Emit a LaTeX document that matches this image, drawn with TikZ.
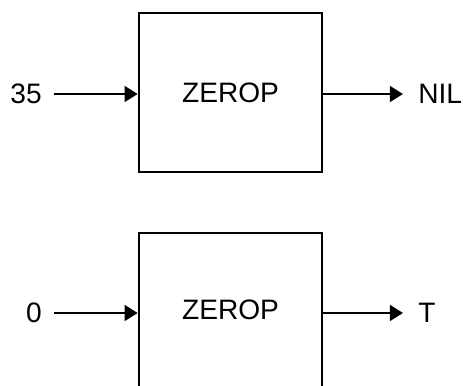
\documentclass[tikz,border=0pt]{standalone}
\usepackage{fontspec}
\setmainfont{Liberation Sans}
\usetikzlibrary{positioning}
\usetikzlibrary{calc}
\usetikzlibrary{arrows.meta}

\tikzset{
    fnbox/.style={draw,line width=1.5pt,minimum width=3.66cm,minimum height=3.18cm,inner sep=0pt},
    lbl/.style={inner sep=0pt},
    flow/.style={line width=1.4pt,-{Triangle[length=7.5pt,width=9pt]}}
}

\begin{document}
\begin{tikzpicture}[font=\fontsize{16}{19}\selectfont]
            \useasboundingbox (0,0) rectangle (9.26,7.7);

            \node[fnbox] (zeropA) at (4.61,5.85) {ZEROP};
            \node[lbl,anchor=east] (inA) at (0.84,5.82) {35};
            \node[lbl,anchor=west] (outA) at (8.36,5.82) {NIL};
            \draw[flow,shorten <=0.24cm] (inA.east) -- (inA.east -| zeropA.west);
            \draw[flow,shorten >=0.3cm] (outA.west -| zeropA.east) -- (outA.west);

            \node[fnbox,minimum height=3.08cm] (zeropB) at (4.61,1.50) {ZEROP};
            \node[lbl,anchor=east] (inB) at (0.84,1.44) {0};
            \node[lbl,anchor=west] (outB) at (8.36,1.44) {T};
            \draw[flow,shorten <=0.24cm] (inB.east) -- (inB.east -| zeropB.west);
            \draw[flow,shorten >=0.3cm] (outB.west -| zeropB.east) -- (outB.west);
        \end{tikzpicture}
\end{document}
